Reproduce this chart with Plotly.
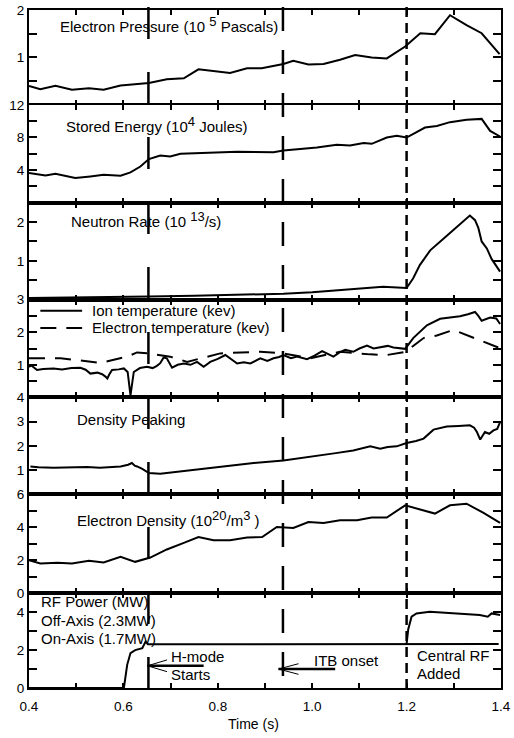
import plotly.graph_objects as go
from plotly.subplots import make_subplots

# ---------------- data ----------------
t_pressure = [0.400,0.424,0.456,0.491,0.527,0.558,0.594,0.622,0.654,0.692,0.728,0.759,0.826,0.862,0.893,
              0.939,0.960,0.992,1.024,1.059,1.091,1.126,1.158,1.197,1.229,1.260,1.292,1.327,1.359,1.397]
pressure = [0.40,0.33,0.40,0.32,0.35,0.32,0.41,0.43,0.46,0.54,0.56,0.75,0.67,0.77,0.77,
            0.86,0.93,0.85,0.86,0.95,1.05,1.00,0.98,1.23,1.51,1.49,1.89,1.68,1.51,1.07]

t_energy = [0.400,0.435,0.456,0.498,0.530,0.558,0.594,0.615,0.636,0.654,0.678,0.699,0.721,0.777,0.841,0.918,
            0.939,1.010,1.052,1.080,1.109,1.126,1.158,1.179,1.200,1.239,1.264,1.292,1.327,1.359,1.377,1.398]
energy = [3.63,3.35,3.55,3.02,3.22,3.43,3.30,3.71,4.44,5.35,5.79,5.67,6.00,6.08,6.24,6.20,
          6.40,6.77,7.10,7.02,7.31,7.22,7.99,8.20,7.99,9.22,9.42,9.88,10.16,10.28,8.81,8.12]

t_neutron = [0.400,0.500,0.600,0.654,0.750,0.850,0.939,1.000,1.060,1.100,1.150,1.200,1.214,1.228,1.250,
             1.278,1.306,1.327,1.334,1.345,1.352,1.359,1.370,1.380,1.398]
neutron = [0.04,0.05,0.06,0.08,0.10,0.12,0.15,0.19,0.25,0.29,0.33,0.30,0.55,0.89,1.27,
           1.57,1.87,2.08,2.17,2.05,1.85,1.50,1.32,1.05,0.72]

t_ion = [0.400,0.405,0.417,0.430,0.452,0.470,0.490,0.509,0.520,0.530,
         0.545,0.555,0.562,0.566,0.570,0.576,0.590,0.601,0.609,0.615,
         0.622,0.635,0.650,0.662,0.671,0.678,0.685,0.692,0.703,0.715,
         0.728,0.742,0.756,0.770,0.784,0.800,0.816,0.830,0.841,0.855,
         0.869,0.890,0.905,0.918,0.930,0.939,0.955,0.968,0.989,1.005,
         1.021,1.045,1.058,1.070,1.087,1.100,1.116,1.130,1.144,1.160,
         1.172,1.197,1.214,1.230,1.243,1.271,1.290,1.313,1.330,1.345,
         1.352,1.359,1.377,1.390,1.398]
ion_temp = [0.94,0.98,0.84,0.87,0.89,0.86,0.90,0.91,0.85,0.73,
            0.76,0.71,0.64,0.58,0.70,0.84,0.86,0.89,0.78,0.06,
            0.78,0.90,0.94,0.90,0.97,1.05,1.22,1.20,0.91,1.00,
            1.04,1.00,1.09,0.94,1.09,1.18,1.30,1.15,1.04,1.08,
            1.04,1.20,1.12,1.20,1.24,1.30,1.20,1.25,1.17,1.28,
            1.42,1.25,1.38,1.46,1.40,1.50,1.59,1.50,1.53,1.58,
            1.53,1.49,1.82,2.05,2.21,2.41,2.45,2.49,2.55,2.62,
            2.50,2.35,2.45,2.42,2.25]

t_etemp = [0.400,0.467,0.551,0.608,0.629,0.654,0.699,0.735,0.805,0.890,0.939,0.996,1.059,1.123,1.158,
           1.198,1.236,1.264,1.299,1.334,1.370,1.398]
e_temp = [1.20,1.20,1.06,1.25,1.38,1.35,1.25,1.09,1.35,1.40,1.35,1.20,1.40,1.32,1.30,
          1.40,1.82,1.90,2.07,1.87,1.66,1.51]

t_peak = [0.403,0.420,0.452,0.480,0.523,0.550,0.594,0.610,0.618,0.624,0.629,0.640,0.654,0.678,0.700,
          0.735,0.770,0.805,0.840,0.876,0.939,0.980,1.017,1.050,1.087,1.110,1.123,1.144,1.160,1.179,
          1.200,1.220,1.236,1.257,1.285,1.310,1.334,1.343,1.349,1.356,1.366,1.375,1.384,1.392,1.398]
peaking = [1.15,1.12,1.10,1.12,1.13,1.10,1.15,1.22,1.29,1.18,1.15,1.05,0.88,0.85,0.90,
           0.99,1.05,1.15,1.20,1.29,1.40,1.50,1.61,1.70,1.81,1.92,1.98,1.88,1.95,1.98,
           2.12,2.20,2.30,2.67,2.80,2.82,2.85,2.75,2.57,2.26,2.57,2.50,2.64,2.70,2.98]

t_density = [0.400,0.424,0.460,0.491,0.527,0.558,0.594,0.625,0.657,0.692,0.728,0.759,0.791,0.826,0.862,
             0.894,0.925,0.960,0.992,1.024,1.059,1.095,1.126,1.158,1.197,1.229,1.260,1.292,1.327,1.363,1.398]
density = [2.00,1.80,1.84,1.80,1.96,1.86,2.20,1.90,2.16,2.65,3.05,3.41,3.21,3.21,3.37,
           3.41,4.02,3.96,4.32,4.26,4.42,4.42,4.59,4.59,5.33,5.07,4.83,5.33,5.43,4.87,4.26]

t_rf_off = [0.400,0.601,0.604,0.608,0.615,0.625,0.640,0.647,0.652,0.800,1.000,1.200,1.395]
rf_off = [0.0,0.0,0.52,1.22,1.84,2.00,2.10,2.45,2.30,2.30,2.30,2.32,2.32]

t_rf_total = [1.200,1.2035,1.2105,1.221,1.249,1.298,1.355,1.372,1.380,1.398]
rf_total = [2.33,3.10,3.76,3.93,4.02,3.93,3.85,3.76,3.93,3.85]

x_major = [0.4,0.6,0.8,1.0,1.2,1.4]
x_labels = ["0.4","0.6","0.8","1.0","1.2","1.4"]
x_minor = [0.5,0.7,0.9,1.1,1.3]

y_ranges = [[0,2],[0,12],[0,2.5],[0,3],[0,4],[0,6],[0,5]]
y_major = [[1,2],[4,8,12],[1,2],[1,2,3],[1,2,3,4],[0,2,4,6],[0,2,4]]
y_labels = [["1","2"],["4","8","12"],["1","2"],["1","2","3"],["1","2","3","4"],
            ["0","2","4","6"],["0","2","4"]]
y_minor = [[0,0.5,1.5],[0,2,6,10],[0,0.5,1.5,2.5],[0,0.5,1.5,2.5],[0],[1,3,5],[1,3,5]]

event_times = [0.653, 0.938, 1.200]
event_dashes = ["32px,33px", "24px,19px", "10px,6px"]

# ---------------- figure ----------------
FONT = "Liberation Sans, Arial, Helvetica, sans-serif"
fig = make_subplots(rows=7, cols=1, shared_xaxes=True, vertical_spacing=0,
                    row_heights=[95, 98, 97, 98, 97, 99, 95])

ln = dict(color="black", width=2)
fig.add_trace(go.Scatter(x=t_pressure, y=pressure, mode="lines", line=ln), 1, 1)
fig.add_trace(go.Scatter(x=t_energy, y=energy, mode="lines", line=ln), 2, 1)
fig.add_trace(go.Scatter(x=t_neutron, y=neutron, mode="lines", line=ln), 3, 1)
fig.add_trace(go.Scatter(x=t_ion, y=ion_temp, mode="lines", line=ln), 4, 1)
fig.add_trace(go.Scatter(x=t_etemp, y=e_temp, mode="lines",
                         line=dict(color="black", width=2, dash="16px,10px")), 4, 1)
fig.add_trace(go.Scatter(x=t_peak, y=peaking, mode="lines", line=ln), 5, 1)
fig.add_trace(go.Scatter(x=t_density, y=density, mode="lines", line=ln), 6, 1)
fig.add_trace(go.Scatter(x=t_rf_off, y=rf_off, mode="lines", line=ln), 7, 1)
fig.add_trace(go.Scatter(x=t_rf_total, y=rf_total, mode="lines", line=ln), 7, 1)

tfont = dict(size=13.5, color="black", family=FONT)
for i in range(7):
    fig.update_yaxes(row=i + 1, col=1, range=y_ranges[i], tickmode="array",
                     tickvals=y_major[i], ticktext=y_labels[i],
                     ticks="inside", ticklen=8, tickwidth=2, tickcolor="black",
                     minor=dict(tickmode="array", tickvals=y_minor[i], ticks="inside",
                                ticklen=8, tickwidth=2, tickcolor="black", showgrid=False),
                     showline=True, linewidth=2, linecolor="black", mirror="ticks",
                     showgrid=False, zeroline=False, automargin=False, tickfont=tfont)
    fig.update_xaxes(row=i + 1, col=1, range=[0.4, 1.4], tickmode="array",
                     tickvals=x_major, ticktext=x_labels,
                     showticklabels=(i == 6), ticklabelstandoff=5,
                     ticks="inside", ticklen=5, tickwidth=2, tickcolor="black",
                     minor=dict(tickmode="array", tickvals=x_minor, ticks="inside",
                                ticklen=5, tickwidth=2, tickcolor="black", showgrid=False),
                     showline=True, linewidth=2, linecolor="black", mirror="ticks",
                     showgrid=False, zeroline=False, automargin=False, tickfont=tfont)

for x, d in zip(event_times, event_dashes):
    fig.add_shape(type="line", xref="x", yref="paper", x0=x, x1=x, y0=1.0044, y1=0,
                  line=dict(color="black", width=2.5, dash=d))

def sup(s):
    return "<sup><span style='font-size:13px'>" + s + "</span></sup>"

def label(text, x, y, row, size=15):
    ax = "" if row == 1 else str(row)
    fig.add_annotation(text=text, x=x, y=y, xref="x" + ax, yref="y" + ax, xanchor="left",
                       yanchor="middle", showarrow=False,
                       font=dict(size=size, color="black", family=FONT))

label("Electron Pressure (10 " + sup("5") + " Pascals)", 0.462, 1.70, 1)
label("Stored Energy (10" + sup("4") + " Joules)", 0.475, 9.65, 2)
label("Neutron Rate (10 " + sup("13") + "/s)", 0.484, 2.06, 3)
label("Ion temperature (kev)", 0.530, 2.66, 4)
label("Electron temperature (kev)", 0.530, 2.13, 4)
label("Density Peaking", 0.498, 3.09, 5)
label("Electron Density (10" + sup("20") + "/m" + sup("3") + " )", 0.498, 4.53, 6)
label("RF Power (MW)", 0.421, 4.54, 7)
label("Off-Axis (2.3MW)", 0.421, 3.58, 7)
label("On-Axis (1.7MW)", 0.421, 2.62, 7)
label("H-mode", 0.696, 1.66, 7)
label("Starts", 0.696, 0.73, 7)
label("ITB onset", 0.999, 1.43, 7)
label("Central RF", 1.218, 1.69, 7)
label("Added", 1.218, 0.79, 7)

# legend samples
fig.add_shape(type="line", xref="x4", yref="y4", x0=0.424, x1=0.5125, y0=2.66, y1=2.66,
              line=dict(color="black", width=2))
fig.add_shape(type="line", xref="x4", yref="y4", x0=0.424, x1=0.5125, y0=2.13, y1=2.13,
              line=dict(color="black", width=2, dash="16px,10px"))

# arrows
def arrow(x_tail, x_tip, y, x_wing, dy):
    fig.add_shape(type="line", xref="x7", yref="y7", x0=x_tail, x1=x_tip, y0=y, y1=y,
                  line=dict(color="black", width=2.5))
    for s in (1, -1):
        fig.add_shape(type="line", xref="x7", yref="y7", x0=x_tip, x1=x_wing, y0=y, y1=y + s * dy,
                      line=dict(color="black", width=1))

arrow(0.770, 0.651, 1.17, 0.6925, 0.31)
arrow(1.0487, 0.9287, 1.00, 0.971, 0.28)

fig.add_annotation(text="Time (s)", x=0.4757, y=-0.0531, xref="paper", yref="paper",
                   xanchor="center", yanchor="middle",
                   showarrow=False, font=dict(size=14, color="black", family=FONT))

fig.update_layout(width=514, height=738,
                  margin=dict(l=28.5, r=13, t=10, b=50, autoexpand=False),
                  paper_bgcolor="white", plot_bgcolor="white", showlegend=False,
                  font=dict(family=FONT, color="black"))

# remove the default 8px page margin so the figure fills the window exactly
fig.write_html("out.html", config={"displayModeBar": False},
               post_script="document.body.style.margin='0';")
